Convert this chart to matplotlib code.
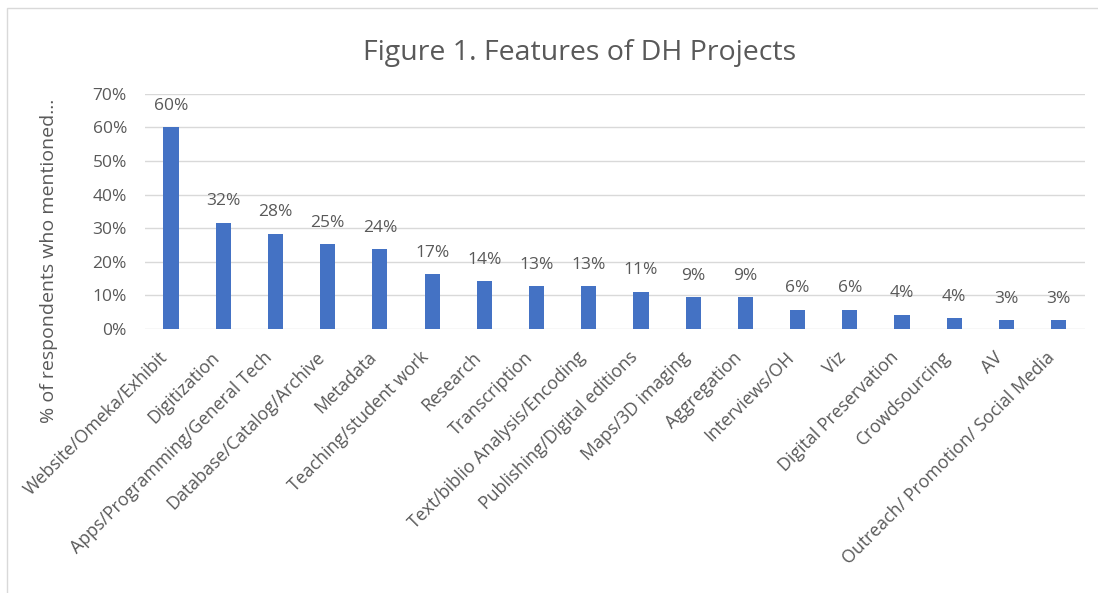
import matplotlib
matplotlib.use("Agg")
import matplotlib.pyplot as plt
from matplotlib.patches import Rectangle

categories = ["Website/Omeka/Exhibit", "Digitization", "Apps/Programming/General Tech",
              "Database/Catalog/Archive", "Metadata", "Teaching/student work", "Research",
              "Transcription", "Text/biblio Analysis/Encoding", "Publishing/Digital editions",
              "Maps/3D imaging", "Aggregation", "Interviews/OH", "Viz", "Digital Preservation",
              "Crowdsourcing", "AV", "Outreach/ Promotion/ Social Media"]
values = [60.0, 31.6, 28.4, 25.3, 23.7, 16.4, 14.2, 12.7, 12.7, 11.1, 9.5, 9.5, 5.8, 5.8, 4.3, 3.2, 2.7, 2.7]
labels = ["60%", "32%", "28%", "25%", "24%", "17%", "14%", "13%", "13%", "11%", "9%", "9%",
          "6%", "6%", "4%", "4%", "3%", "3%"]
yticks = [0, 10, 20, 30, 40, 50, 60, 70]

plt.rcParams['font.family'] = ['Open Sans', 'DejaVu Sans']
gray = "#595959"

fig = plt.figure(figsize=(10.98, 5.93), dpi=100)
fig.patches.append(Rectangle((0.006, -0.01), 1.0, 0.997, transform=fig.transFigure,
                             fill=False, edgecolor="#d9d9d9", linewidth=1.0))
ax = fig.add_axes([0.132, 0.445, 0.856, 0.397])

x = list(range(len(categories)))
bars = ax.bar(x, values, width=0.29, color="#4472C4", zorder=3)
for xi, v, lab in zip(x, values, labels):
    ax.text(xi, v + 4.0, lab, ha="center", va="bottom", fontsize=12.5, color=gray)

ax.set_ylim(0, 70)
ax.set_xlim(-0.5, len(categories) - 0.5)
ax.set_yticks(yticks)
ax.set_yticklabels([f"{t}%" for t in yticks], fontsize=12.5, color=gray)
ax.set_xticks(x)
ax.set_xticklabels(categories, rotation=45, ha="right", va="bottom", rotation_mode="anchor",
                   fontsize=12.8, color=gray)
ax.tick_params(axis="y", length=0, pad=13)
ax.tick_params(axis="x", length=0, pad=23)
ax.grid(axis="y", color="#d9d9d9", linewidth=1, zorder=0)
for s in ax.spines.values():
    s.set_visible(False)
ax.set_ylabel("% of respondents who mentioned...", fontsize=14, color=gray)
ax.yaxis.set_label_coords(-0.0926, 0.29)

fig.text(0.528, 0.91, "Figure 1. Features of DH Projects", ha="center", va="center",
         fontsize=20.5, color=gray)

fig.savefig("out.png", dpi=100)
